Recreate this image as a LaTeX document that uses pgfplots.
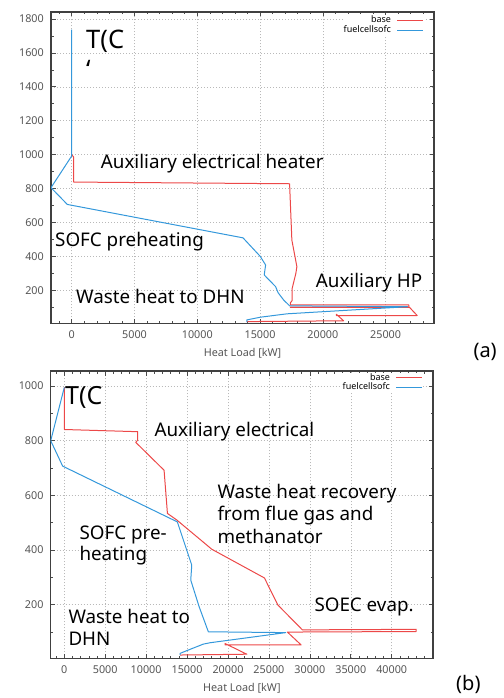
\documentclass[border=0pt]{standalone}
\usepackage{fontspec}
\setmainfont{Noto Sans}
\usepackage{pgfplots}
\pgfplotsset{compat=1.18}
\definecolor{cbase}{RGB}{236,72,72}
\definecolor{csofc}{RGB}{52,152,219}
\definecolor{tickgrey}{RGB}{85,85,85}
\pgfplotsset{
 hc/.style={
  scale only axis,
  scaled x ticks=false, scaled y ticks=false,
  axis line style={draw=black!75, line width=1.2pt},
  tick style={draw=black!70, line width=0.6pt},
  major tick length=4.5pt, minor tick length=2.5pt,
  grid=major,
  major grid style={draw=gray!55, line width=0.5pt, dash pattern=on 1pt off 2pt},
  tick label style={font=\fontsize{10.8}{12}\selectfont, text=tickgrey},
  /pgf/number format/assume math mode=true,
  /pgf/number format/1000 sep={},
  xticklabel style={anchor=base, inner sep=0pt, yshift=-15pt},
  yticklabel style={anchor=east, inner sep=0pt, xshift=-7pt},
  xlabel={Heat Load [kW]},
  xlabel style={at={(axis description cs:0.5,0)}, anchor=base, inner sep=0pt, yshift=-33pt, font=\fontsize{10.8}{12}\selectfont, text=tickgrey},
  legend cell align=right,
  legend plot pos=right,
  legend image code/.code={\draw[##1, line width=1pt] (0pt,0pt) -- (26pt,0pt);},
  every axis plot/.append style={line width=1pt, line join=round},
 }
}
\newcommand{\lab}{\fontsize{18.8}{22}\selectfont}
\begin{document}
\begin{tikzpicture}
\path[use as bounding box] (0,0) rectangle (503pt,-698pt);
% ---------------- (a)
\begin{axis}[hc,
  at={(51pt,-323.3pt)}, anchor=south west,
  width=383pt, height=311.3pt,
  xmin=-1650, xmax=28850, ymin=5, ymax=1841,
  xtick={0,5000,...,25000}, ytick={200,400,...,1800},
  minor xtick={-1000,0,...,28000}, minor ytick={100,200,...,1800},
  legend style={draw=none, fill=white, inner sep=0pt, font=\fontsize{9}{10}\selectfont,
    at={(1,1)}, anchor=north east, xshift=-10.3pt, yshift=-3pt,
    nodes={inner sep=1pt, text height=6.5pt, text depth=1.5pt}, /tikz/column sep=4.5pt},
]
\addplot[cbase] coordinates {
(0,1000) (150,985) (150,838) (17350,828) (17530,496) (17930,339) (17850,300)
(17560,212) (17560,140) (17410,125) (17410,113) (26840,113) (26840,101) (17410,101)
(17410,99) (26900,99) (27510,51) (21080,51) (21080,58) (21650,20) (13940,15)
};
\addlegendentry{base}
\addplot[csofc] coordinates {
(0,1737) (0,992) (-1650,805) (-350,706) (13640,509) (15010,400) (15440,349) (15330,290)
(16240,221) (16430,186) (16870,143) (17350,108) (26750,103) (17150,61) (15020,41)
(13940,25) (13940,12)
};
\addlegendentry{fuelcellsofc}
\end{axis}
% ---------------- (b)
\begin{axis}[hc,
  at={(50.7pt,-658.3pt)}, anchor=south west,
  width=382.3pt, height=287.3pt,
  xmin=-1662, xmax=45046, ymin=4, ymax=1055,
  xtick={0,5000,...,40000}, ytick={200,400,...,1000},
  minor xtick={-1000,0,...,45000}, minor ytick={100,200,...,1000},
  legend style={draw=none, fill=white, inner sep=0pt, font=\fontsize{9}{10}\selectfont,
    at={(1,1)}, anchor=north east, xshift=-10.3pt, yshift=-1.7pt,
    nodes={inner sep=1pt, text height=6.3pt, text depth=1.3pt}, /tikz/column sep=4.5pt},
]
\addplot[cbase] coordinates {
(0,995) (0,841) (8970,833) (8970,802) (8730,794) (12190,692) (12600,534) (13740,510)
(18020,403) (24450,298) (26090,199) (29090,108) (42990,110) (42990,102) (27260,100)
(28930,53) (19640,53) (19640,58) (22300,19) (14140,16)
};
\addlegendentry{base}
\addplot[csofc] coordinates {
(0,995) (-1660,800) (-200,707) (13810,503) (15570,345) (15450,290) (16470,193)
(17600,101) (27060,98) (17820,61) (16990,56) (14960,32) (14140,22) (14140,16)
};
\addlegendentry{fuelcellsofc}
\end{axis}
% ---------------- annotations (a)
\node[anchor=base west, inner sep=0pt] at (86pt,-49pt) {\fontsize{25.5}{30}\selectfont T(C};
\node[anchor=base west, inner sep=0pt] at (86pt,-78.5pt) {\fontsize{25.5}{30}\selectfont\symbol{96}};
\node[anchor=base west, inner sep=0pt] at (100.7pt,-168.3pt) {\lab Auxiliary electrical heater};
\node[anchor=base west, inner sep=0pt] at (55pt,-246pt) {\lab SOFC preheating};
\node[anchor=base west, inner sep=0pt] at (315.7pt,-287.3pt) {\lab Auxiliary HP};
\node[anchor=base west, inner sep=0pt] at (76pt,-303.3pt) {\lab Waste heat to DHN};
\node[anchor=base west, inner sep=0pt] at (473.3pt,-357.5pt) {\fontsize{20}{24}\selectfont (a)};
% ---------------- annotations (b)
\node[anchor=base west, inner sep=0pt] at (65pt,-404pt) {\fontsize{25}{30}\selectfont T(C};
\node[anchor=base west, inner sep=0pt] at (154.3pt,-436.7pt) {\lab Auxiliary electrical};
\node[anchor=base west, inner sep=0pt] at (217.3pt,-498.3pt) {\lab Waste heat recovery};
\node[anchor=base west, inner sep=0pt] at (217.3pt,-520.8pt) {\lab from flue gas and};
\node[anchor=base west, inner sep=0pt] at (217.3pt,-543.3pt) {\lab methanator};
\node[anchor=base west, inner sep=0pt] at (79.3pt,-539.3pt) {\lab SOFC pre-};
\node[anchor=base west, inner sep=0pt] at (79.3pt,-560.7pt) {\lab heating};
\node[anchor=base west, inner sep=0pt] at (314.3pt,-611.7pt) {\lab SOEC evap.};
\node[anchor=base west, inner sep=0pt] at (68.3pt,-623.3pt) {\lab Waste heat to};
\node[anchor=base west, inner sep=0pt] at (68.3pt,-645pt) {\lab DHN};
\node[anchor=base west, inner sep=0pt] at (456pt,-690.5pt) {\fontsize{20}{24}\selectfont (b)};
\end{tikzpicture}
\end{document}
